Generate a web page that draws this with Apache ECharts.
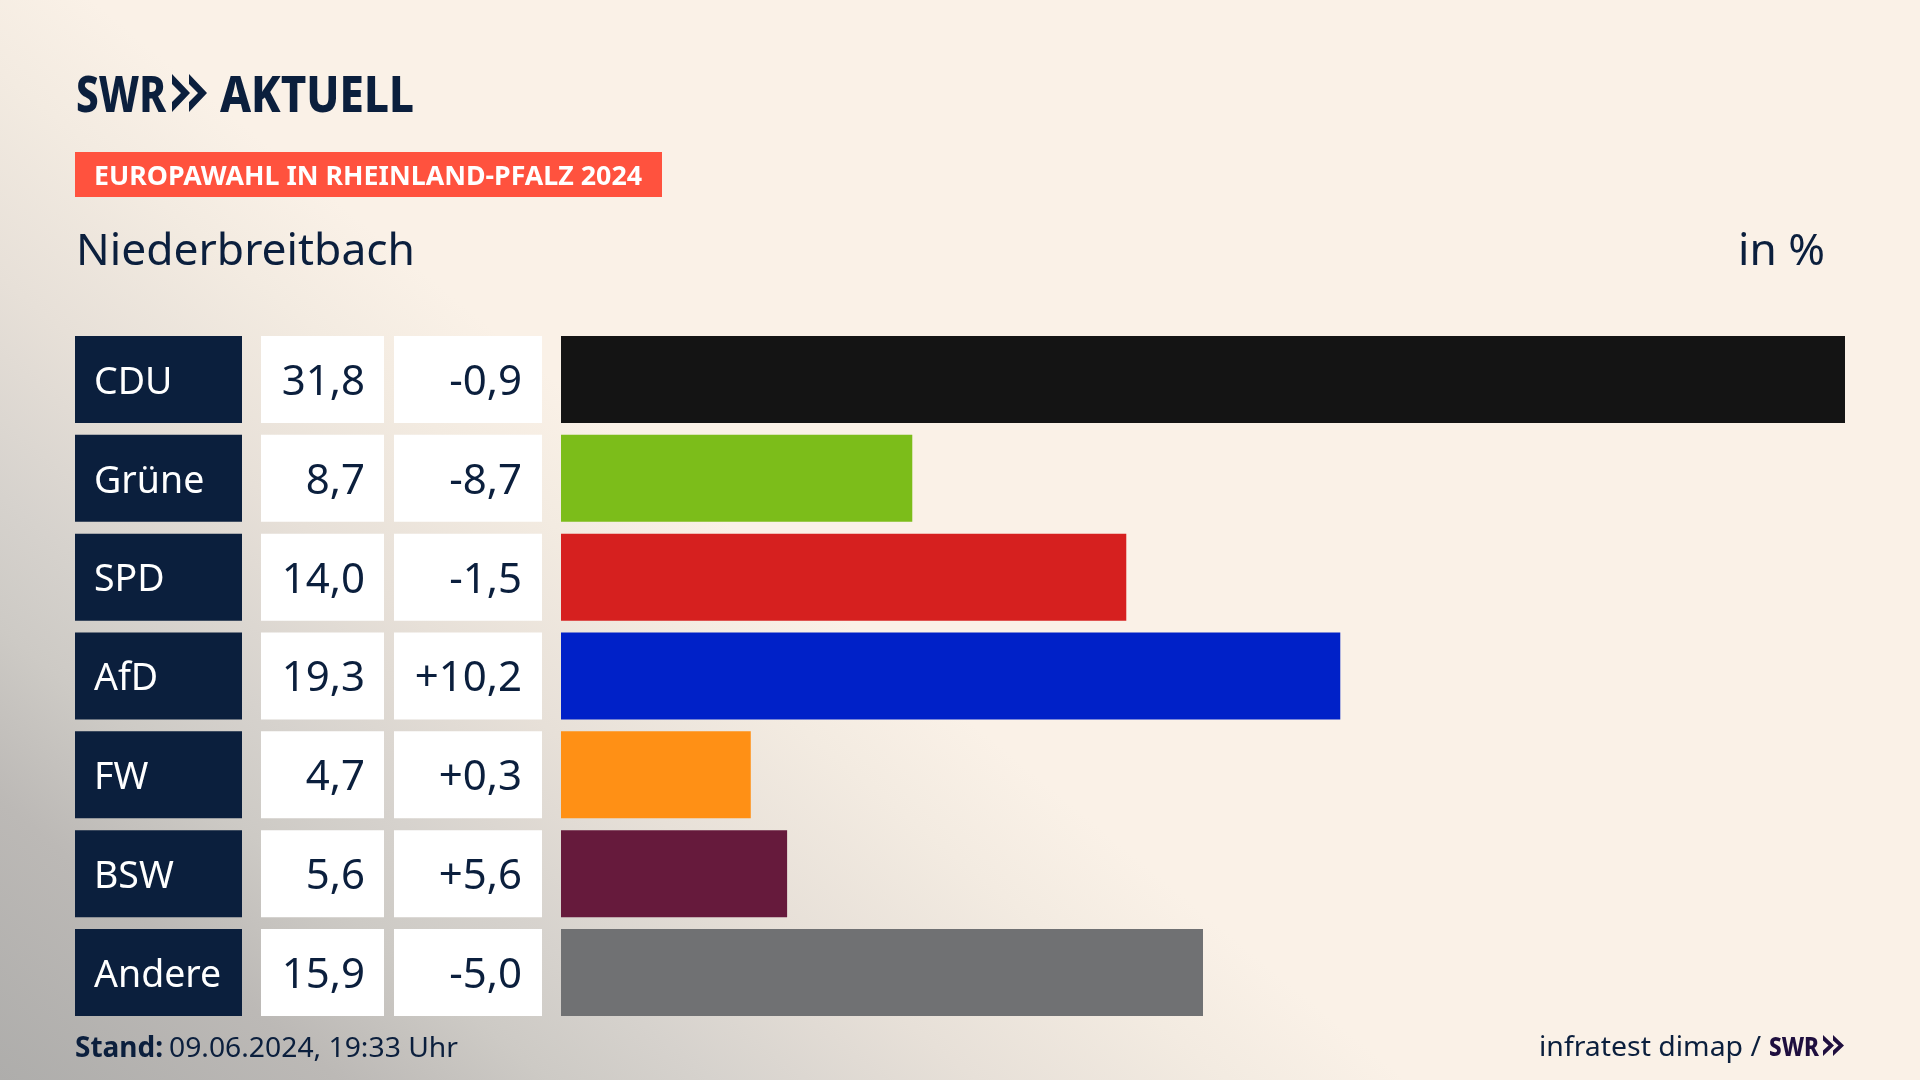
<!DOCTYPE html>
<html><head><meta charset="utf-8">
<style>
html,body{margin:0;padding:0;width:1920px;height:1080px;overflow:hidden;background:#faf1e7;}
#bg{position:absolute;left:0;top:0;width:1920px;height:1080px;background:
 linear-gradient(39.4deg,#aeadab 0%,#bcb9b6 10.5%,#cdcac5 17%,#d6d2cd 22%,#e7e0d8 30.2%,#f3ebe1 38%,#faf1e7 43.5%,#faf1e7 100%);}
#c{position:absolute;left:0;top:0;width:1920px;height:1080px;}
</style>
<script src="https://cdn.jsdelivr.net/npm/echarts@6/dist/echarts.min.js"></script>
</head><body><div id="bg"></div><div id="c"></div>
<script>
const categories=['CDU','Grüne','SPD','AfD','FW','BSW','Andere'];
const shares=[31.8,8.7,14.0,19.3,4.7,5.6,15.9];
const changes=[-0.9,-8.7,-1.5,10.2,0.3,5.6,-5.0];
const partyColors=['#141414','#7cbd1a','#d6201f','#0021c8','#ff9015','#661a3c','#707173'];
const kicker='EUROPAWAHL IN RHEINLAND-PFALZ 2024';
const place='Niederbreitbach';
const unit='in %';
const stand='09.06.2024, 19:33 Uhr';
const source='infratest dimap /';

const NAVY='#0b1f3d', FONT='"Noto Sans"';
const fmt=v=>v.toFixed(1).replace('.',',');
const fmtD=v=>(v>0?'+':'')+fmt(v);
const mc=document.createElement('canvas').getContext('2d');
function T(x,base,str,size,weight,color,w,z){
  mc.font=`${weight} ${size}px ${FONT}`;
  const m=mc.measureText(str).width;
  return {type:'text',x:x,y:base+size*0.25,scaleX:w?w/m:1,z:z||10,silent:true,
    style:{text:str,fontFamily:'Noto Sans',fontSize:size,fontWeight:weight,fill:color,textVerticalAlign:'bottom',verticalAlign:'alphabetic',textBaseline:'alphabetic'}};
}
function chev(x,y,w,h,color){
  return {type:'polygon',silent:true,z:10,shape:{points:[[x,y],[x+w,y+h/2],[x,y+h],[x,y+h*0.74],[x+w*0.5,y+h/2],[x,y+h*0.26]]},style:{fill:color}};
}
function cellAxis(data,off,boxW,pad,align,bg,color,size){
  return {type:'category',inverse:true,data:data,position:'left',offset:off,
    axisLine:{show:false},axisTick:{show:false},splitLine:{show:false},
    axisLabel:{show:true,interval:0,margin:0,align:align,verticalAlign:'middle',hideOverlap:false,
      formatter:v=>'{a|'+v+'}',
      backgroundColor:bg,width:boxW,overflow:'none',padding:pad,
      rich:{a:{fontFamily:'Noto Sans',fontSize:size,color:color,height:80,lineHeight:80,padding:[7,0,0,0]}}}};
}
const chart=echarts.init(document.getElementById('c'),null,{renderer:'canvas',width:1920,height:1080});
chart.setOption({
  animation:false,
  backgroundColor:'transparent',
  grid:{left:561,top:330.1,width:1284,height:691.8,containLabel:false},
  xAxis:{type:'value',min:0,max:31.8,show:false},
  yAxis:[
    cellAxis(categories,486,148,[0,0,0,19],'left',NAVY,'#fff',37.5),
    cellAxis(shares.map(fmt),177,104,[0,19,0,0],'right','#fff',NAVY,42),
    cellAxis(changes.map(fmtD),19,128,[0,20,0,0],'right','#fff',NAVY,42)
  ].map(a=>{const p=a.axisLabel.padding;a.axisLabel.padding=[3.5,p[1],3.5,p[3]];return a;}),
  series:[{type:'bar',yAxisIndex:0,data:shares,barWidth:87,
    itemStyle:{color:p=>partyColors[p.dataIndex]}}],
  graphic:[
    T(76,110,'SWR',49,800,NAVY,90),
    chev(172,74,18,38,NAVY),chev(189,74,18,38,NAVY),
    T(220,110,'AKTUELL',49,800,NAVY,194),
    {type:'rect',silent:true,z:5,shape:{x:75,y:152,width:587,height:45},style:{fill:'#ff523e'}},
    T(94,184,kicker,26,700,'#fff',548),
    T(76,263,place,44,400,NAVY,339),
    T(1738,263,unit,44,400,NAVY,87),
    T(75,1056,'Stand:',28,700,NAVY,88),
    T(169,1056,stand,28,400,NAVY,289),
    T(1539,1055,source,28,400,NAVY,222),
    T(1769,1055,'SWR',26,800,'#1f0f3f',50),
    chev(1823,1035,11,21,'#1f0f3f'),chev(1833,1035,11,21,'#1f0f3f')
  ]
});
</script></body></html>
